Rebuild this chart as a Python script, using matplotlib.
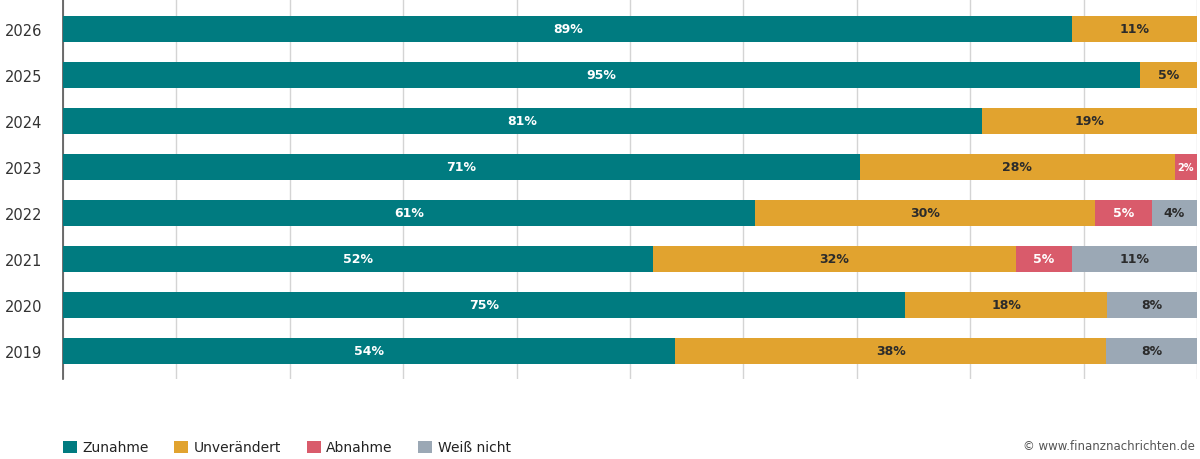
import matplotlib.pyplot as plt
import numpy as np
from matplotlib.patches import Patch

# data
years = ['2019', '2020', '2021', '2022', '2023', '2024', '2025', '2026']
zunahme = [54, 75, 52, 61, 71, 81, 95, 89]
unveraendert = [38, 18, 32, 30, 28, 19, 5, 11]
abnahme = [0, 0, 5, 5, 2, 0, 0, 0]
weiss_nicht = [8, 8, 11, 4, 0, 0, 0, 0]

series = [
    ('Zunahme', zunahme, '#007b80', 'white'),
    ('Unverändert', unveraendert, '#e1a32f', '#2b2b2b'),
    ('Abnahme', abnahme, '#d95b6b', 'white'),
    ('Weiß nicht', weiss_nicht, '#9ba8b5', '#2b2b2b'),
]

plt.rcParams['font.family'] = ['DejaVu Sans']

fig = plt.figure(figsize=(12, 4.6), dpi=100)
ax = fig.add_axes([0.0525, 0.174, 0.945, 0.826])

y = np.arange(len(years))
totals = np.sum([s[1] for s in series], axis=0)
left = np.zeros(len(years))
for name, vals, color, tcol in series:
    vals = np.array(vals, dtype=float)
    widths = vals / totals * 100
    ax.barh(y, widths, left=left, height=0.565, color=color, zorder=3)
    for i, v in enumerate(vals):
        if v <= 0:
            continue
        fs = 7 if widths[i] < 3 else 9
        ax.text(left[i] + widths[i] / 2, y[i], f'{int(v)}%', ha='center', va='center',
                color=tcol, fontsize=fs, fontweight='bold', zorder=4)
    left += widths

ax.set_xlim(0, 100)
ax.set_ylim(-0.61, len(years) - 1 + 0.65)
ax.set_xticks(np.arange(0, 101, 10))
ax.set_xticklabels([])
ax.tick_params(axis='x', length=0)
ax.grid(axis='x', color='#d4d4d4', linewidth=1, zorder=0)
ax.set_yticks(y)
ax.set_yticklabels(years, fontsize=10.5, color='#333333')
ax.tick_params(axis='y', length=0, pad=15)
for s in ['top', 'right', 'bottom']:
    ax.spines[s].set_visible(False)
ax.spines['left'].set_color('#555555')
ax.spines['left'].set_linewidth(1.2)

handles = [Patch(facecolor=c, edgecolor='none', label=n) for n, _, c, _ in series]
fig.legend(handles=handles, loc='center left', bbox_to_anchor=(0.0418, 0.025), ncol=4,
           frameon=False, fontsize=10, handlelength=1.0, handleheight=1.0,
           handletextpad=0.4, columnspacing=1.85, labelcolor='#222222')

fig.text(0.996, 0.03, '© www.finanznachrichten.de', ha='right', va='center',
         fontsize=8.5, color='#555555')

fig.savefig('out.png', dpi=100)
